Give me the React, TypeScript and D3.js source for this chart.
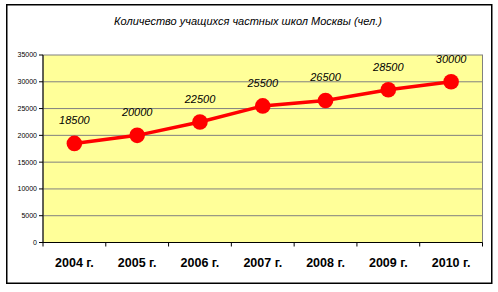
import React from "react";
import * as d3 from "d3";

const categories = ["2004 г.", "2005 г.", "2006 г.", "2007 г.", "2008 г.", "2009 г.", "2010 г."];
const values = [18500, 20000, 22500, 25500, 26500, 28500, 30000];
const yTicks = [0, 5000, 10000, 15000, 20000, 25000, 30000, 35000];
const title = "Количество учащихся частных школ Москвы (чел.)";

export default function App() {
  const W = 498, H = 292;
  const left = 43, right = 482.5, top = 55, bottom = 242.5;
  const x = d3.scaleBand<string>().domain(categories).range([left, right]).padding(0);
  const y = d3.scaleLinear().domain([0, 35000]).range([bottom, top]);
  const cx = (c: string) => (x(c) as number) + x.bandwidth() / 2;
  const line = d3.line<number>().x((_, i) => cx(categories[i])).y((v) => y(v));
  const font = "Arial, 'Liberation Sans', sans-serif";
  return (
    <div style={{ position: "absolute", left: 0, top: 0 }}>
      <svg width={W} height={H} style={{ display: "block" }}>
        <rect x={0} y={0} width={W} height={H} fill="#fff" />
        <rect x={6.75} y={4.75} width={485} height={278.5} fill="#fff" stroke="#000" strokeWidth={1.5} />
        <text x={248} y={24.5} textAnchor="middle" fontFamily={font} fontStyle="italic" fontSize={11} fill="#000">
          {title}
        </text>
        <rect x={left} y={top} width={right - left} height={bottom - top} fill="#FFFF99" stroke="#808080" strokeWidth={1} />
        {yTicks.map((t) => (
          <g key={t}>
            {t > 0 && t < 35000 && (
              <line x1={left} x2={right} y1={y(t)} y2={y(t)} stroke="#808080" strokeWidth={1} />
            )}
            <line x1={left - 4} x2={left} y1={y(t)} y2={y(t)} stroke="#000" strokeWidth={1} />
            <text x={left - 6} y={y(t)} dy="0.35em" textAnchor="end" fontFamily={font} fontSize={7} fill="#000">
              {t}
            </text>
          </g>
        ))}
        <line x1={left} x2={left} y1={top} y2={bottom} stroke="#000" strokeWidth={1} />
        <line x1={left} x2={right} y1={bottom} y2={bottom} stroke="#000" strokeWidth={1} />
        {categories.map((c, i) => (
          <line key={"t" + i} x1={x(c) as number} x2={x(c) as number} y1={bottom} y2={bottom + 4} stroke="#000" />
        ))}
        <line x1={right} x2={right} y1={bottom} y2={bottom + 4} stroke="#000" />
        {categories.map((c) => (
          <text key={c} x={cx(c)} y={263} dy="0.35em" textAnchor="middle" fontFamily={font} fontWeight="bold" fontSize={12.5} fill="#000">
            {c}
          </text>
        ))}
        <path d={line(values) || ""} fill="none" stroke="#FF0000" strokeWidth={3.5} />
        {values.map((v, i) => (
          <circle key={i} cx={cx(categories[i])} cy={y(v)} r={7.8} fill="#FF0000" />
        ))}
        {values.map((v, i) => (
          <text key={"l" + i} x={cx(categories[i])} y={y(v) - 23} dy="0.35em" textAnchor="middle" fontFamily={font} fontStyle="italic" fontSize={11} fill="#000">
            {v}
          </text>
        ))}
      </svg>
    </div>
  );
}
